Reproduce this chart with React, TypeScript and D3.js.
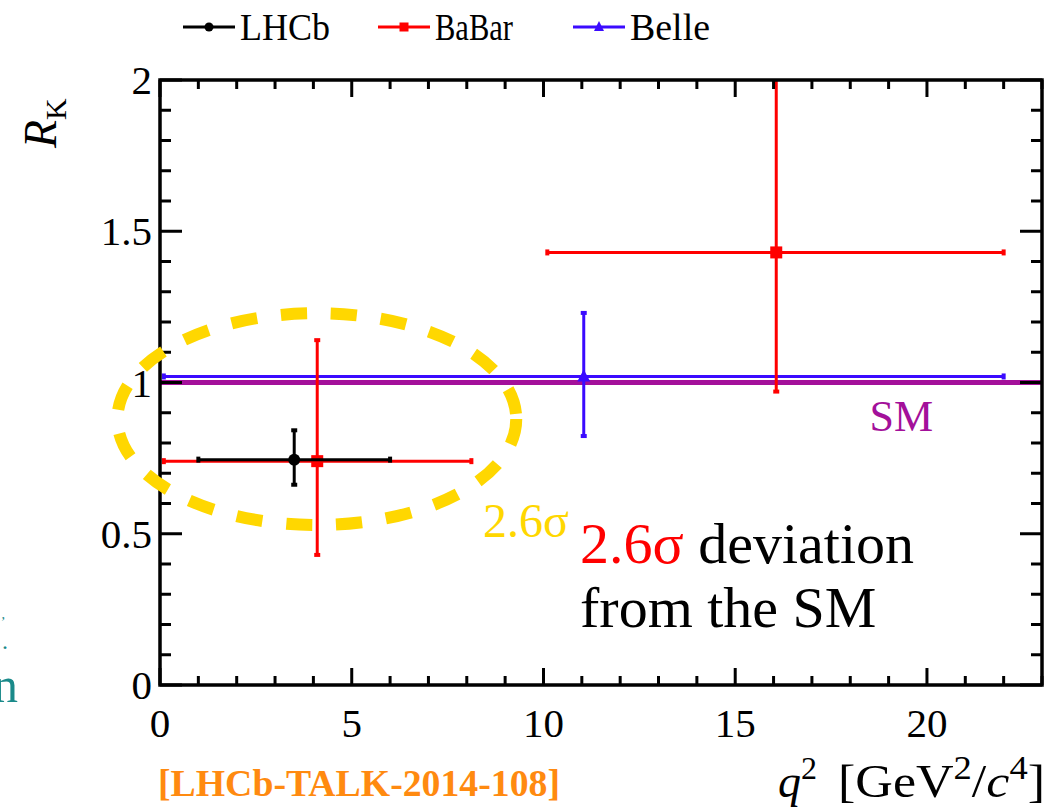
import React from "react";
import * as d3 from "d3";

// ---- data ----
const lhcb = [{ x: 3.5, xlo: 1.0, xhi: 6.0, y: 0.745, ylo: 0.662, yhi: 0.842 }];
const babar = [
  { x: 4.1, xlo: 0.1, xhi: 8.12, y: 0.74, ylo: 0.43, yhi: 1.14 },
  { x: 16.07, xlo: 10.1, xhi: 22.0, y: 1.43, ylo: 0.97, yhi: 2.3 },
];
const belle = [{ x: 11.05, xlo: 0.1, xhi: 22.0, y: 1.02, ylo: 0.823, yhi: 1.23 }];
const smValue = 1.0;
const xTicks = [0, 5, 10, 15, 20];
const yTicks = [0, 0.5, 1, 1.5, 2];
const yTickLabels = ["0", "0.5", "1", "1.5", "2"];
const ellipse = { cx: 4.09, cy: 0.879, rx: 5.2, ry: 0.35 };

const W = 1048;
const H = 809;
const left = 160, right = 1042, top = 80, bottom = 685;
const FONT = "'Liberation Serif', 'DejaVu Serif', 'Times New Roman', serif";

const RED = "#ff0000";
const BLUE = "#3b0bff";
const PURPLE = "#a3109a";
const YELLOW = "#ffd700";

export default function App() {
  const x = d3.scaleLinear().domain([0, 23]).range([left, right]);
  const y = d3.scaleLinear().domain([0, 2]).range([bottom, top]);

  const xMinor = d3.range(0, 23.001, 1);
  const yMinor = d3.range(0, 2.0001, 0.1);

  const errBars = (data: any[], color: string, marker: string, key: string) =>
    data.map((d, i) => {
      const cx = x(d.x), cy = y(d.y);
      let m: React.ReactNode = null;
      if (marker === "circle") m = <circle cx={cx} cy={cy} r={6} fill={color} />;
      else if (marker === "square") m = <rect x={cx - 6} y={cy - 6} width={12} height={12} fill={color} />;
      else {
        const p = d3.path();
        p.moveTo(cx, cy - 7);
        p.lineTo(cx + 6.5, cy + 5);
        p.lineTo(cx - 6.5, cy + 5);
        p.closePath();
        m = <path d={p.toString()} fill={color} />;
      }
      const yTop = Math.max(y(d.yhi), top);
      return (
        <g key={key + i} stroke={color} strokeWidth={3}>
          <line x1={x(d.xlo)} x2={x(d.xhi)} y1={cy} y2={cy} />
          <line x1={cx} x2={cx} y1={y(d.ylo)} y2={yTop} />
          <line x1={x(d.xlo)} x2={x(d.xlo)} y1={cy - 3} y2={cy + 3} strokeWidth={4} />
          <line x1={x(d.xhi)} x2={x(d.xhi)} y1={cy - 3} y2={cy + 3} strokeWidth={4} />
          <line x1={cx - 3} x2={cx + 3} y1={y(d.ylo)} y2={y(d.ylo)} strokeWidth={4} />
          {d.yhi <= 2 && <line x1={cx - 3} x2={cx + 3} y1={yTop} y2={yTop} strokeWidth={4} />}
          <g stroke="none">{m}</g>
        </g>
      );
    });

  const legend = [
    { label: "LHCb", color: "#000", marker: "circle", x0: 183, tx: 240, w: 90 },
    { label: "BaBar", color: RED, marker: "square", x0: 378, tx: 435, w: 78 },
    { label: "Belle", color: BLUE, marker: "triangle", x0: 573, tx: 630, w: 80 },
  ];

  return (
    <svg width={W} height={H} style={{ position: "absolute", left: 0, top: 0, background: "#fff" }} fontFamily={FONT}>
      <defs>
        <clipPath id="plot">
          <rect x={left} y={top} width={right - left} height={bottom - top} />
        </clipPath>
      </defs>
      <rect x={0} y={0} width={W} height={H} fill="#fff" />

      {/* legend */}
      {legend.map((l) => {
        const cy = 27;
        const mx = l.x0 + 26;
        let m: React.ReactNode;
        if (l.marker === "circle") m = <circle cx={mx} cy={cy} r={4.5} fill={l.color} />;
        else if (l.marker === "square") m = <rect x={mx - 4.5} y={cy - 4.5} width={9} height={9} fill={l.color} />;
        else m = <path d={`M${mx},${cy - 6}L${mx + 5},${cy + 4}L${mx - 5},${cy + 4}Z`} fill={l.color} />;
        return (
          <g key={l.label}>
            <line x1={l.x0} x2={l.x0 + 52} y1={cy} y2={cy} stroke={l.color} strokeWidth={3} />
            {m}
            <text x={l.tx} y={cy + 13} fontSize={37} fill="#000" textLength={l.w} lengthAdjust="spacingAndGlyphs">
              {l.label}
            </text>
          </g>
        );
      })}

      {/* SM line */}
      <line x1={left} x2={right} y1={y(smValue)} y2={y(smValue)} stroke={PURPLE} strokeWidth={5} />
      <text x={x(18.5)} y={y(smValue) + 48} fontSize={44} fill={PURPLE}>SM</text>

      {/* data */}
      <g clipPath="url(#plot)">
        {errBars(belle, BLUE, "triangle", "belle")}
        {errBars(babar, RED, "square", "babar")}
        {errBars(lhcb, "#000", "circle", "lhcb")}
      </g>

      {/* frame */}
      <rect x={left} y={top} width={right - left} height={bottom - top} fill="none" stroke="#000" strokeWidth={3.5} />
      {xMinor.map((v) => {
        const major = Math.abs(v % 5) < 1e-6;
        const len = major ? 17 : 9;
        return (
          <g key={"xt" + v} stroke="#000" strokeWidth={3}>
            <line x1={x(v)} x2={x(v)} y1={bottom} y2={bottom - len} />
            <line x1={x(v)} x2={x(v)} y1={top} y2={top + len} />
          </g>
        );
      })}
      {yMinor.map((v) => {
        const major = Math.abs((v * 10) % 5) < 1e-6;
        const len = major ? 22 : 11;
        return (
          <g key={"yt" + v.toFixed(1)} stroke="#000" strokeWidth={3}>
            <line x1={left} x2={left + len} y1={y(v)} y2={y(v)} />
            <line x1={right} x2={right - len} y1={y(v)} y2={y(v)} />
          </g>
        );
      })}
      {xTicks.map((v) => (
        <text key={"xl" + v} x={x(v)} y={bottom + 52} fontSize={41} textAnchor="middle" fill="#000">{v}</text>
      ))}
      {yTicks.map((v, i) => (
        <text key={"yl" + v} x={left - 8} y={y(v) + 14} fontSize={41} textAnchor="end" fill="#000">{yTickLabels[i]}</text>
      ))}

      {/* axis titles */}
      <text transform="translate(56,148) rotate(-90)" fontSize={46} fill="#000">
        <tspan fontStyle="italic">R</tspan>
        <tspan fontSize={30} dy={10}>K</tspan>
      </text>
      <text x={778} y={797} fontSize={46} fill="#000">
        <tspan fontStyle="italic">q</tspan>
        <tspan fontSize={32} dy={-18}>2</tspan>
      </text>
      <text x={838} y={797} fontSize={47} fill="#000" textLength={207} lengthAdjust="spacingAndGlyphs">
        <tspan>[GeV</tspan>
        <tspan fontSize={33} dy={-18}>2</tspan>
        <tspan dy={18}>/</tspan>
        <tspan fontStyle="italic">c</tspan>
        <tspan fontSize={33} dy={-18}>4</tspan>
        <tspan dy={18}>]</tspan>
      </text>

      {/* ellipse annotation */}
      <ellipse
        cx={x(ellipse.cx)}
        cy={y(ellipse.cy)}
        rx={x(ellipse.rx) - x(0)}
        ry={y(0) - y(ellipse.ry)}
        fill="none"
        stroke={YELLOW}
        strokeWidth={12}
        strokeDasharray="26 24"
      />
      <text x={483} y={537} fontSize={48} fill={YELLOW}>2.6σ</text>

      <text x={580} y={563} fontSize={58} fill="#000">
        <tspan fill={RED}>2.6σ</tspan> deviation
      </text>
      <text x={580} y={627} fontSize={58} fill="#000">from the SM</text>

      {/* reference */}
      <text x={158} y={796} fontSize={38} fill="#ff8a10" fontWeight="bold" textLength={402} lengthAdjust="spacingAndGlyphs">
        [LHCb-TALK-2014-108]
      </text>

      {/* cut-off teal text on the left edge */}
      <text x={5} y={619} fontSize={14} fill="#1a8a8a" textAnchor="end">,</text>
      <text x={8} y={649} fontSize={24} fill="#1a8a8a" textAnchor="end">.</text>
      <text x={18} y={702} fontSize={50} fill="#1a8a8a" textAnchor="end">n</text>
    </svg>
  );
}
